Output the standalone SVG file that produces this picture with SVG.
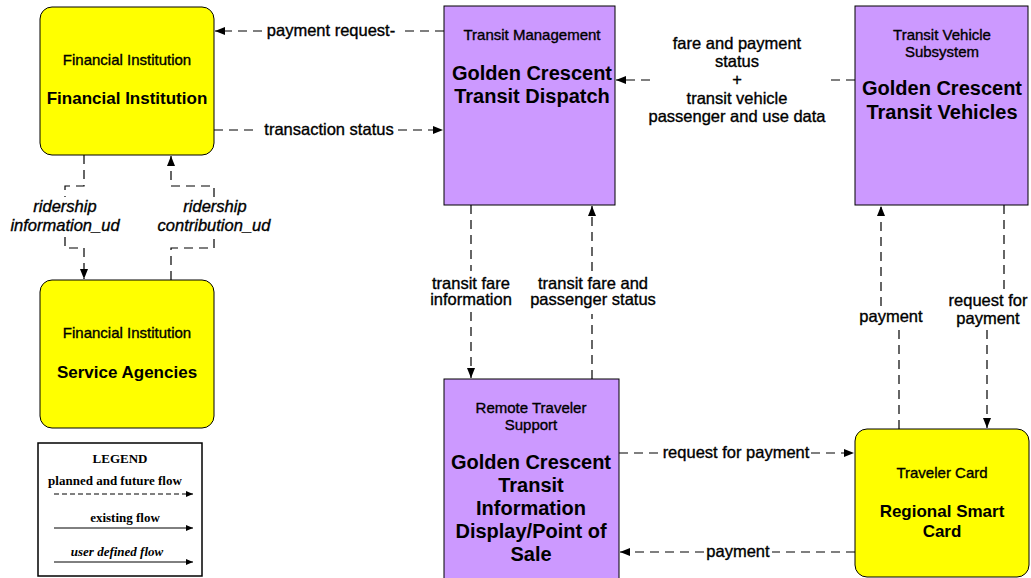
<svg xmlns="http://www.w3.org/2000/svg" width="1031" height="578" viewBox="0 0 1031 578">
<defs>
<style>
.yel{fill:#FFFF00;stroke:#000;stroke-width:1}
.pur{fill:#CC99FF;stroke:#000;stroke-width:1}
.t{font-family:"Liberation Sans",Arial,sans-serif;font-weight:bold;text-anchor:middle;fill:#000}
.s{font-size:15px;font-weight:normal;stroke:#000;stroke-width:0.35}
.b{font-size:17px}
.g{font-size:20px}
.l{font-size:16.5px;font-weight:normal;stroke:#000;stroke-width:0.35}
.i{font-style:italic}
.c{fill:none;stroke:#000;stroke-width:1.2;stroke-dasharray:9 6}
.lg{font-family:"Liberation Serif","Times New Roman",serif;font-weight:bold;text-anchor:middle;fill:#000;font-size:13px}
</style>
<marker id="ah" markerUnits="userSpaceOnUse" markerWidth="10" markerHeight="8" refX="10" refY="4" orient="auto">
<path d="M0,0 L10,4 L0,8 Z" fill="#000"/>
</marker>
<marker id="sh" markerUnits="userSpaceOnUse" markerWidth="7" markerHeight="6" refX="7" refY="3" orient="auto">
<path d="M0,0 L7,3 L0,6 Z" fill="#000"/>
</marker>
</defs>
<rect width="1031" height="578" fill="#fff"/>

<g id="connectors">
<path class="c" d="M444,31 L400,31 M262,31 L215,31" marker-end="url(#ah)"/>
<text class="t l" x="331" y="36">payment request-</text>
<path class="c" d="M214,130 L259,130 M398,130 L443,130" marker-end="url(#ah)"/>
<text class="t l" x="329" y="135">transaction status</text>
<path class="c" d="M855,80 L826,80 M650,80 L616,80" marker-end="url(#ah)"/>
<text class="t l" x="737" y="49">fare and payment</text>
<text class="t l" x="737" y="67">status</text>
<text class="t l" x="737" y="85">+</text>
<text class="t l" x="737" y="104">transit vehicle</text>
<text class="t l" x="737" y="122">passenger and use data</text>
<path class="c" d="M471,205 L471,271 M471,312 L471,378" marker-end="url(#ah)"/>
<text class="t l" x="471" y="289">transit fare</text>
<text class="t l" x="471" y="305">information</text>
<path class="c" d="M592,379 L592,314 M592,271 L592,206" marker-end="url(#ah)"/>
<text class="t l" x="593" y="289">transit fare and</text>
<text class="t l" x="593" y="305">passenger status</text>
<path class="c" d="M899,429 L899,330 M881,306 L881,206" marker-end="url(#ah)"/>
<text class="t l" x="891" y="322">payment</text>
<path class="c" d="M1004,205 L1004,290 M987,330 L987,428" marker-end="url(#ah)"/>
<text class="t l" x="988" y="306">request for</text>
<text class="t l" x="988" y="324">payment</text>
<path class="c" d="M619,453 L661,453 M811,453 L854,453" marker-end="url(#ah)"/>
<text class="t l" x="736" y="458">request for payment</text>
<path class="c" d="M855,552 L772,552 M704,552 L620,552" marker-end="url(#ah)"/>
<text class="t l" x="738" y="557">payment</text>
<path class="c" d="M84,155 L84,186 L65,186 L65,197 M65,237 L65,248 L84,248 L84,279" marker-end="url(#ah)"/>
<text class="t l i" x="65" y="212">ridership</text>
<text class="t l i" x="65" y="231">information_ud</text>
<path class="c" d="M171,280 L171,248 L214,248 L214,237 M214,197 L214,186 L171,186 L171,156" marker-end="url(#ah)"/>
<text class="t l i" x="215" y="212">ridership</text>
<text class="t l i" x="214" y="231">contribution_ud</text>
</g>

<g id="financial-institution">
<rect class="yel" x="40" y="7" width="174" height="148" rx="12"/>
<text class="t s" x="127" y="65">Financial Institution</text>
<text class="t b" x="127" y="104">Financial Institution</text>
</g>
<g id="service-agencies">
<rect class="yel" x="40" y="280" width="174" height="148" rx="12"/>
<text class="t s" x="127" y="338">Financial Institution</text>
<text class="t b" x="127" y="378">Service Agencies</text>
</g>
<g id="transit-dispatch">
<rect class="pur" x="444" y="6" width="171" height="199"/>
<text class="t s" x="532" y="40">Transit Management</text>
<text class="t g" x="532" y="80">Golden Crescent</text>
<text class="t g" x="532" y="103">Transit Dispatch</text>
</g>
<g id="transit-vehicles">
<rect class="pur" x="855" y="6" width="173" height="199"/>
<text class="t s" x="942" y="40">Transit Vehicle</text>
<text class="t s" x="942" y="57">Subsystem</text>
<text class="t g" x="942" y="95">Golden Crescent</text>
<text class="t g" x="942" y="119">Transit Vehicles</text>
</g>
<g id="remote-traveler-support">
<rect class="pur" x="444" y="379" width="175" height="205"/>
<text class="t s" x="531" y="413">Remote Traveler</text>
<text class="t s" x="531" y="430">Support</text>
<text class="t g" x="531" y="469">Golden Crescent</text>
<text class="t g" x="531" y="492">Transit</text>
<text class="t g" x="531" y="515">Information</text>
<text class="t g" x="531" y="538">Display/Point of</text>
<text class="t g" x="531" y="561">Sale</text>
</g>
<g id="regional-smart-card">
<rect class="yel" x="855" y="429" width="174" height="148" rx="12"/>
<text class="t s" x="942" y="478">Traveler Card</text>
<text class="t b" x="942" y="517">Regional Smart</text>
<text class="t b" x="942" y="537">Card</text>
</g>

<g id="legend">
<rect x="38" y="443" width="164" height="133" fill="#fff" stroke="#000" stroke-width="1.5"/>
<text class="lg" x="120" y="463">LEGEND</text>
<text class="lg" x="115" y="485">planned and future flow</text>
<line x1="54" y1="494" x2="193" y2="494" stroke="#000" stroke-width="1" stroke-dasharray="5 3" marker-end="url(#sh)"/>
<text class="lg" x="125" y="522">existing flow</text>
<line x1="54" y1="528" x2="193" y2="528" stroke="#000" stroke-width="1" marker-end="url(#sh)"/>
<text class="lg" x="117" y="556" font-style="italic">user defined flow</text>
<line x1="54" y1="562" x2="193" y2="562" stroke="#000" stroke-width="1" marker-end="url(#sh)"/>
</g>
</svg>
